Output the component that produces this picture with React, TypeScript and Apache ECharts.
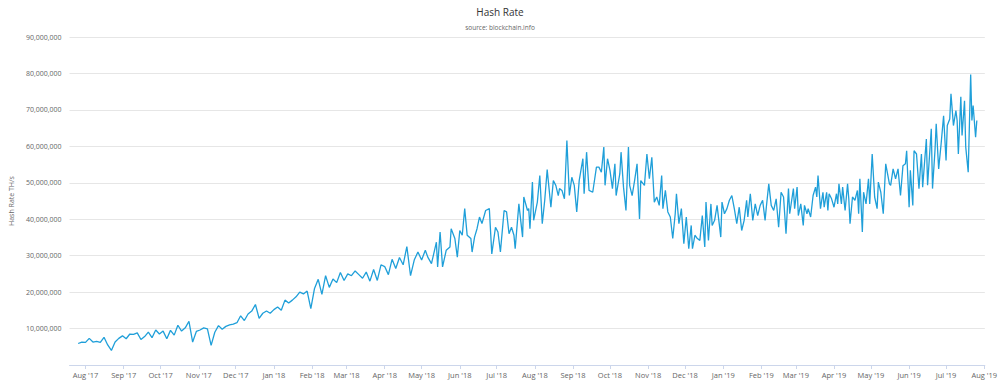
import React, { useEffect, useRef } from "react";
import * as echarts from "echarts";

// Days since 2017-08-01 for each reading
const days = [
  -6, -3, 0, 3, 6, 9, 12, 15, 18, 21, 24, 27, 30, 33, 36, 39, 42, 45, 48, 51,
  54, 57, 60, 63, 66, 69, 72, 75, 78, 81, 84, 87, 90, 93, 96, 99, 102, 105, 108, 111,
  114, 117, 120, 123, 126, 129, 132, 135, 138, 141, 144, 147, 150, 153, 156, 159, 162, 165, 168, 171,
  174, 177, 180, 183, 186, 189, 192, 195, 198, 201, 204, 207, 210, 213, 216, 219, 222, 225, 228, 231,
  234, 237, 240, 243, 246, 249, 252, 255, 258, 261, 264, 267, 270, 273, 276,
  278, 281, 285, 286, 288, 290, 293, 296, 297, 300,
  302, 304, 306, 308, 310, 313, 314, 316, 318, 320,
  322, 325, 328, 330, 333, 335, 337, 340, 342, 344,
  346, 348, 349, 352, 355, 356, 359, 360, 361, 363,
  364, 367, 369, 371, 373, 375, 378, 380, 382, 384,
  385, 387, 389, 391, 393, 395, 397, 399, 401, 404,
  405, 407, 409, 412, 415, 417, 419, 421, 422, 424,
  426, 428,
  430, 431, 434, 435, 437, 439, 441, 442, 444, 446,
  448, 450, 451, 454, 456, 458, 460, 462, 464, 466,
  468, 469, 471, 473, 475, 477, 479, 480, 482, 484,
  486, 488, 490, 492, 493, 495, 497, 499, 501, 503,
  504, 506, 508, 509, 511, 513, 516, 517, 519, 521,
  523, 525, 527, 529, 531, 533, 535, 537, 538, 540,
  542, 544, 546, 548, 550, 552, 553, 555, 557, 559,
  561, 563, 565, 567,
  569, 571, 572, 575, 576, 578, 579, 581, 583, 584,
  586, 587, 589, 591, 593, 594, 595, 597, 599, 600,
  602, 603, 604, 606, 608, 610, 611, 612, 614, 615,
  617, 619, 620, 621, 623, 625, 627, 628, 629, 631,
  632, 634, 636, 637, 639, 641, 643, 644, 646, 648,
  650, 653, 654, 656, 658, 660, 662, 664, 666, 667,
  669, 670, 672, 673, 675, 677, 679, 680, 683, 684,
  687, 688, 690, 691, 693, 695, 697, 699, 700, 702,
  703, 705, 707, 708, 709, 711, 712, 714, 715, 717,
  719, 720, 721, 723, 724,
];

// Hash rate in millions of TH/s
const hashRateM = [
  5.9, 6.3, 6.2, 7.3, 6.3, 6.5, 6.2, 7.6, 5.5, 4.0,
  6.3, 7.3, 8.0, 7.2, 8.5, 8.4, 8.8, 7.0, 7.8, 9.0,
  7.5, 9.6, 8.5, 9.3, 7.2, 9.5, 8.2, 10.9, 9.3, 10.2,
  12.0, 6.3, 9.2, 9.6, 10.2, 9.9, 5.4, 9.0, 10.8, 9.8,
  10.6, 11.0, 11.2, 11.6, 13.5, 12.2, 14.0, 14.8, 16.6, 12.8,
  14.2, 14.8, 14.2, 15.2, 15.9, 15.0, 17.8, 17.0, 17.8, 18.7,
  20.0, 19.5, 20.3, 15.5, 21.0, 23.5, 19.4, 24.5, 21.3, 23.6,
  22.6, 25.4, 23.2, 25.0, 24.5, 25.8, 24.8, 23.8, 25.5, 23.0,
  26.2, 23.2, 27.5, 27.0, 24.8, 29.0, 26.5, 29.5, 27.5, 32.5,
  24.5, 28.8, 31.0, 28.8, 31.5,
  29.6, 27.8, 33.7, 26.9, 36.5, 26.9, 31.5, 32.4, 37.4, 34.7,
  29.6, 36.9, 35.6, 42.9, 35.6, 34.7, 31.0, 35.1, 37.4, 40.6,
  38.8, 42.4, 42.9, 30.5, 37.8, 36.5, 31.0, 42.4, 42.0, 36.0,
  37.8, 35.6, 31.9, 44.2, 35.1, 46.1, 42.4, 42.9, 37.4, 50.2,
  39.7, 44.7, 52.0, 38.8, 45.2, 53.6, 43.3, 50.6, 49.3, 46.5,
  48.4, 47.9, 45.6, 61.6, 46.5, 51.5, 49.3, 42.0, 50.6, 56.6,
  47.0, 58.4, 47.9, 47.4, 54.3, 54.3, 52.9, 59.8, 49.3, 56.6,
  53.4, 48.4,
  55.2, 46.5, 52.5, 58.4, 48.8, 42.4, 59.8, 49.3, 46.5, 50.6,
  55.2, 40.1, 50.6, 49.3, 57.9, 51.1, 57.0, 44.7, 46.1, 43.8,
  52.0, 42.9, 47.9, 42.0, 40.6, 34.7, 41.5, 47.0, 38.8, 42.9,
  33.3, 40.6, 31.9, 38.3, 31.9, 35.6, 34.7, 34.2, 41.0, 32.4,
  44.7, 34.2, 44.2, 38.3, 39.7, 43.8, 35.1, 44.7, 41.5, 42.9,
  45.2, 46.5, 42.9, 38.8, 43.3, 36.9, 39.7, 45.2, 40.6, 47.0,
  39.7, 44.2, 41.0, 43.8, 45.2, 39.7, 43.3, 49.7, 43.8, 42.4,
  45.6, 37.8, 47.4, 46.1,
  36.0, 48.4, 41.5, 48.4, 42.9, 48.8, 41.0, 44.2, 38.3, 43.8,
  41.5, 42.9, 40.6, 46.5, 48.8, 46.1, 52.0, 42.9, 47.4, 43.3,
  47.4, 42.4, 47.0, 45.6, 43.3, 47.0, 44.2, 49.7, 44.2, 48.8,
  42.4, 49.7, 45.6, 38.8, 46.1, 45.2, 47.9, 41.5, 51.1, 36.5,
  47.4, 44.2, 51.1, 44.2, 57.9, 46.1, 42.9, 50.2, 47.4, 41.5,
  55.2, 49.7, 49.3, 53.8, 51.1, 53.8, 46.5, 54.7, 55.2, 58.8,
  43.3, 53.4, 43.8, 58.8, 57.9, 48.4, 57.9, 48.8, 62.0, 49.3,
  64.8, 48.4, 58.8, 66.2, 53.8, 60.7, 68.4, 56.1, 65.7, 67.5,
  74.4, 65.7, 69.8, 67.1, 57.9, 73.6, 63.0, 72.5, 59.8, 52.9,
  79.7, 67.1, 71.2, 62.5, 67.1,
];

const monthTicks = [
  "2017-08", "2017-09", "2017-10", "2017-11", "2017-12",
  "2018-01", "2018-02", "2018-03", "2018-04", "2018-05", "2018-06",
  "2018-07", "2018-08", "2018-09", "2018-10", "2018-11", "2018-12",
  "2019-01", "2019-02", "2019-03", "2019-04", "2019-05", "2019-06",
  "2019-07", "2019-08",
];
const monthNames = ["Jan", "Feb", "Mar", "Apr", "May", "Jun", "Jul", "Aug", "Sep", "Oct", "Nov", "Dec"];

const axisMin = new Date(2017, 6, 19).getTime();
const axisMax = new Date(2019, 7, 1, 12).getTime();

function monthTs(s: string) {
  const [y, m] = s.split("-").map(Number);
  return new Date(y, m - 1, 1).getTime();
}

export default function App() {
  const ref = useRef<HTMLDivElement>(null);
  useEffect(() => {
    if (!ref.current) return;
    const chart = echarts.init(ref.current, null, { renderer: "svg" });
    const data = hashRateM.map((v, i) => [
      new Date(2017, 7, 1 + days[i]).getTime(),
      Math.round(v * 1e6),
    ]);
    const ticks = monthTicks.map(monthTs);
    const font = "'Open Sans', sans-serif";
    chart.setOption({
      animation: false,
      backgroundColor: "#ffffff",
      textStyle: { fontFamily: font },
      title: {
        text: "Hash Rate",
        subtext: "source: blockchain.info",
        left: "center",
        top: 2,
        itemGap: 7,
        textStyle: { fontSize: 10, fontWeight: "normal", color: "#333333", fontFamily: font },
        subtextStyle: { fontSize: 6.5, color: "#666666", fontFamily: font },
      },
      grid: { left: 61, right: 13, top: 37, bottom: 22 },
      xAxis: {
        type: "value",
        min: axisMin,
        max: axisMax,
        axisLine: { show: true, lineStyle: { color: "#ccd6eb", width: 1 } },
        axisTick: { show: true, length: 4, customValues: ticks, lineStyle: { color: "#ccd6eb" } },
        axisLabel: {
          customValues: ticks,
          color: "#666666",
          fontSize: 7.5,
          margin: 6,
          fontFamily: font,
          formatter: (v: number) => {
            const d = new Date(v);
            return monthNames[d.getMonth()] + " '" + String(d.getFullYear()).slice(2);
          },
        },
        splitLine: { show: false },
      },
      yAxis: {
        type: "value",
        min: 0,
        max: 90000000,
        interval: 10000000,
        name: "Hash Rate TH/s",
        nameLocation: "middle",
        nameGap: 44,
        nameRotate: 90,
        nameTextStyle: { color: "#666666", fontSize: 7, fontFamily: font },
        axisLine: { show: false },
        axisTick: { show: false },
        axisLabel: {
          color: "#666666",
          fontSize: 7,
          margin: 8,
          fontFamily: font,
          formatter: (v: number) => (v === 0 ? "" : v.toLocaleString("en-US")),
        },
        splitLine: { lineStyle: { color: "#e6e6e6", width: 1 } },
      },
      series: [
        {
          type: "line",
          data,
          showSymbol: false,
          lineStyle: { color: "#1f9fd9", width: 1.3 },
          itemStyle: { color: "#1f9fd9" },
        },
      ],
    });
    return () => chart.dispose();
  }, []);
  return <div ref={ref} style={{ width: 1000, height: 387, position: "absolute", left: 0, top: 0 }} />;
}
